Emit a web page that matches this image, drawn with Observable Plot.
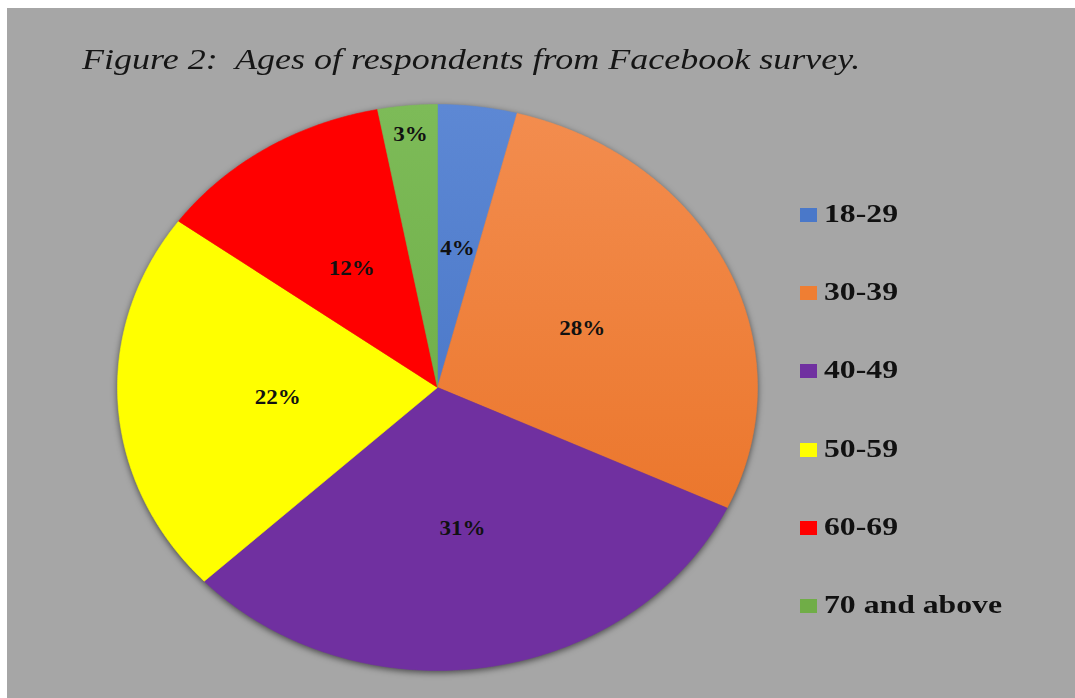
<!DOCTYPE html>
<html>
<head>
<meta charset="utf-8">
<script src="https://cdn.jsdelivr.net/npm/d3@7"></script>
<script src="https://cdn.jsdelivr.net/npm/@observablehq/plot@0.6"></script>
<style>
  html, body { margin: 0; padding: 0; background: #ffffff; }
  #frame { position: absolute; left: 7px; top: 8px; width: 1068px; height: 690px; background: #a6a6a6; overflow: hidden; }
  #title { position: absolute; left: 75px; top: 36px; font-family: "Liberation Serif", "Times New Roman", serif; font-style: italic; font-size: 30px; line-height: 1; white-space: pre; color: #151515; transform: scaleX(1.2); transform-origin: 0 0; z-index: 2; }
  #chart { position: absolute; left: 0; top: 0; }
  .leg { position: absolute; left: 793px; height: 26px; white-space: pre; }
  .leg .sw { position: absolute; left: 0; top: 7px; width: 17px; height: 14px; }
  .leg .lt { position: absolute; left: 24px; top: 0; font-family: "Liberation Serif", "Times New Roman", serif; font-weight: bold; font-size: 26px; line-height: 1; color: #111; transform: scaleX(1.22); transform-origin: 0 0; }
  #chart g[aria-label="line"] { filter: drop-shadow(0px 2px 3px rgba(0,0,0,0.55)); }
</style>
</head>
<body>
<div id="frame">
  <div id="title">Figure 2:  Ages of respondents from Facebook survey.</div>
  <div id="chart"></div>
  <div id="legend"></div>
</div>
<script>
const categories = ["18-29", "30-39", "40-49", "50-59", "60-69", "70 and above"];
const percents = [4, 28, 31, 22, 12, 3];
const labels = ["4%", "28%", "31%", "22%", "12%", "3%"];
const colors = ["#4a78c9", "#ef7e33", "#7030a0", "#ffff00", "#ff0000", "#70ad47"];

const data = categories.map((c, i) => ({cat: c, pct: percents[i], label: labels[i]}));
const arcs = d3.pie().sort(null).value(d => d.pct).startAngle(0).endAngle(2 * Math.PI)(data);

// polygon vertices for each slice (unit circle; scales stretch it into the ellipse)
const pts = [];
for (const a of arcs) {
  const cat = a.data.cat;
  pts.push({cat, x: 0, y: 0});
  const n = Math.max(2, Math.ceil((a.endAngle - a.startAngle) / (Math.PI / 360)));
  for (let k = 0; k <= n; k++) {
    const t = a.startAngle + (a.endAngle - a.startAngle) * k / n;
    pts.push({cat, x: Math.sin(t), y: Math.cos(t)});
  }
  pts.push({cat, x: 0, y: 0});
}

const labelPts = arcs.map(a => {
  const m = (a.startAngle + a.endAngle) / 2;
  const r = a.data.pct < 3.5 ? 0.9 : 0.5;
  return {x: r * Math.sin(m), y: r * Math.cos(m), label: a.data.label};
});

const W = 1068, H = 690;
const chart = Plot.plot({
  width: W,
  height: H,
  marginLeft: 110,
  marginRight: W - 750,
  marginTop: 96,
  marginBottom: H - 662,
  x: {domain: [-1, 1], axis: null},
  y: {domain: [-1, 1], axis: null},
  color: {domain: categories, range: colors},
  style: {background: "transparent", overflow: "visible"},
  marks: [
    Plot.line(pts, {x: "x", y: "y", z: "cat", fill: "cat", stroke: "cat", strokeWidth: 0.6, curve: "linear"}),
    Plot.text(labelPts, {x: "x", y: "y", text: "label", fontSize: 20, fontWeight: "bold", fontFamily: "Liberation Serif, Times New Roman, serif", fill: "#111", dy: 1})
  ]
});
document.getElementById("chart").appendChild(chart);

// widen the label glyphs like the original
chart.querySelectorAll('g[aria-label="text"] text').forEach(t => {
  const tr = t.getAttribute("transform") || "";
  t.setAttribute("transform", tr + " scale(1.15,1)");
});

// subtle vertical shading for some slices
const ns = "http://www.w3.org/2000/svg";
const defs = document.createElementNS(ns, "defs");
chart.insertBefore(defs, chart.firstChild);
const yTop = 96, yBot = 662;
const shade = {"#4a78c9": ["#5d88d4", "#3d6cc0"], "#ef7e33": ["#f38d4f", "#e86e1f"], "#70ad47": ["#7dbb58", "#66a63e"]};
Object.entries(shade).forEach(([base, [c0, c1]], i) => {
  const g = document.createElementNS(ns, "linearGradient");
  g.setAttribute("id", "grad" + i);
  g.setAttribute("gradientUnits", "userSpaceOnUse");
  g.setAttribute("x1", 0); g.setAttribute("x2", 0);
  g.setAttribute("y1", yTop); g.setAttribute("y2", yBot);
  [[0, c0], [1, c1]].forEach(([o, c]) => {
    const s = document.createElementNS(ns, "stop");
    s.setAttribute("offset", o); s.setAttribute("stop-color", c);
    g.appendChild(s);
  });
  defs.appendChild(g);
  chart.querySelectorAll('g[aria-label="line"] path').forEach(p => {
    const f = d3.color(p.getAttribute("fill"));
    if (f && f.formatHex() === base) {
      p.setAttribute("fill", "url(#grad" + i + ")");
      p.setAttribute("stroke", "url(#grad" + i + ")");
    }
  });
});

// legend
const rowY = [215, 293, 371, 450, 528, 606];
const legend = document.getElementById("legend");
categories.forEach((c, i) => {
  const item = document.createElement("div");
  item.className = "leg";
  item.style.top = (rowY[i] - 8 - 14) + "px";
  const sw = document.createElement("div");
  sw.className = "sw";
  sw.style.background = colors[i];
  const lt = document.createElement("div");
  lt.className = "lt";
  lt.textContent = c;
  item.appendChild(sw);
  item.appendChild(lt);
  legend.appendChild(item);
});
</script>
</body>
</html>
